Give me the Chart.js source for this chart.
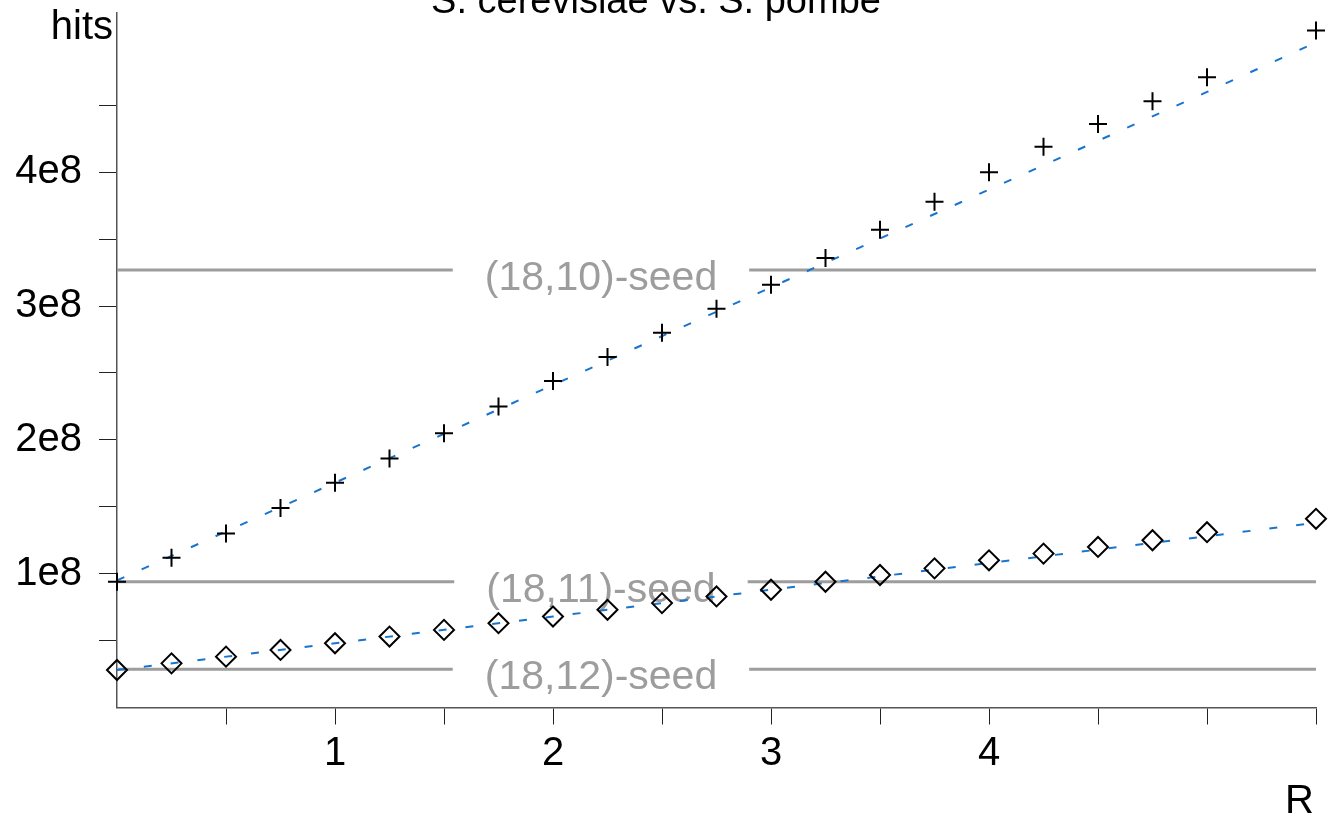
<!DOCTYPE html>
<html>
<head>
<meta charset="utf-8">
<script src="https://cdn.jsdelivr.net/npm/chart.js@4"></script>
<style>
  html, body { margin: 0; padding: 0; background: #fff; }
  #wrap { width: 1328px; height: 818px; }
</style>
</head>
<body>
<div id="wrap"><canvas id="c" width="1328" height="818"></canvas></div>
<script>
// ---------- data ----------
const chartTitle = 'S. cerevisiae vs. S. pombe';
const xAxisLabel = 'R';
const yAxisLabel = 'hits';

const rValues = [0, 0.25, 0.5, 0.75, 1, 1.25, 1.5, 1.75, 2, 2.25, 2.5, 2.75, 3, 3.25, 3.5, 3.75, 4, 4.25, 4.5, 4.75, 5, 5.5];
const plusHits = [0.94e8, 1.12e8, 1.30e8, 1.49e8, 1.68e8, 1.86e8, 2.05e8, 2.25e8, 2.44e8, 2.62e8, 2.80e8, 2.98e8, 3.16e8, 3.36e8, 3.57e8, 3.78e8, 4.00e8, 4.19e8, 4.36e8, 4.53e8, 4.71e8, 5.06e8];
const diamondHits = [0.28e8, 0.33e8, 0.38e8, 0.43e8, 0.48e8, 0.53e8, 0.58e8, 0.63e8, 0.68e8, 0.73e8, 0.78e8, 0.83e8, 0.88e8, 0.94e8, 0.99e8, 1.04e8, 1.10e8, 1.15e8, 1.20e8, 1.25e8, 1.31e8, 1.41e8];

const fitR = [0, 1, 2, 3, 4, 5, 5.5];
const plusFit = [0.95e8, 1.68e8, 2.41e8, 3.14e8, 3.87e8, 4.60e8, 4.97e8];
const diamondFit = [0.28e8, 0.48e8, 0.68e8, 0.88e8, 1.08e8, 1.28e8, 1.38e8];

const seedLabels = ['(18,10)-seed', '(18,11)-seed', '(18,12)-seed'];
const seedValues = [3.27e8, 0.94e8, 0.285e8];
const seedLabelR = 2.22;

const xTickValues = [0.5, 1, 1.5, 2, 2.5, 3, 3.5, 4, 4.5, 5, 5.5];
const xLabelValues = [1, 2, 3, 4];
const xTickLabels = ['1', '2', '3', '4'];
const yTickValues = [0.5e8, 1e8, 1.5e8, 2e8, 2.5e8, 3e8, 3.5e8, 4e8, 4.5e8];
const yLabelValues = [1e8, 2e8, 3e8, 4e8];
const yTickLabels = ['1e8', '2e8', '3e8', '4e8'];

// ---------- chart ----------
const FONT = '"Liberation Sans", Arial, Helvetica, sans-serif';
const GRAY = '#9d9d9d';
const BLUE = '#1874cd';

const toPts = (xs, ys) => xs.map((x, i) => ({ x: x, y: ys[i] }));

const overlay = {
  id: 'overlay',
  beforeDatasetsDraw(chart) {
    const { ctx, chartArea, scales: { x, y } } = chart;
    ctx.save();
    ctx.font = '41px ' + FONT;
    seedLabels.forEach((lab, i) => {
      const py = y.getPixelForValue(seedValues[i]);
      const cx = x.getPixelForValue(seedLabelR);
      const w = ctx.measureText(lab).width;
      const gap = w / 2 + 32;
      ctx.strokeStyle = GRAY;
      ctx.lineWidth = 3;
      ctx.beginPath();
      ctx.moveTo(chartArea.left, py);
      ctx.lineTo(cx - gap, py);
      ctx.moveTo(cx + gap, py);
      ctx.lineTo(chartArea.right, py);
      ctx.stroke();
      ctx.fillStyle = GRAY;
      ctx.textAlign = 'center';
      ctx.textBaseline = 'alphabetic';
      ctx.fillText(lab, cx, py + 20);
    });
    ctx.restore();
  },
  afterDraw(chart) {
    const { ctx, chartArea } = chart;
    ctx.save();
    ctx.fillStyle = '#000';
    ctx.textBaseline = 'alphabetic';
    ctx.font = '38px ' + FONT;
    ctx.textAlign = 'center';
    ctx.fillText(chartTitle, 656, 13);
    ctx.font = '40px ' + FONT;
    ctx.textAlign = 'right';
    ctx.fillText(yAxisLabel, chartArea.left - 4, 39);
    ctx.fillText(xAxisLabel, chartArea.right - 2, 813);
    ctx.restore();
  }
};

new Chart(document.getElementById('c'), {
  type: 'scatter',
  data: {
    datasets: [
      {
        label: 'plus',
        data: toPts(rValues, plusHits),
        pointStyle: 'cross',
        pointRadius: 9,
        pointBorderWidth: 2,
        borderColor: '#000',
        backgroundColor: '#000',
        showLine: false,
        clip: false
      },
      {
        label: 'diamond',
        data: toPts(rValues, diamondHits),
        pointStyle: 'rectRot',
        pointRadius: 10,
        pointBorderWidth: 2,
        borderColor: '#000',
        backgroundColor: 'rgba(0,0,0,0)',
        showLine: false,
        clip: false
      },
      {
        label: 'plus fit',
        data: toPts(fitR, plusFit),
        showLine: true,
        borderColor: BLUE,
        borderWidth: 2,
        borderDash: [8, 19],
        pointRadius: 0,
        tension: 0,
        clip: false
      },
      {
        label: 'diamond fit',
        data: toPts(fitR, diamondFit),
        showLine: true,
        borderColor: BLUE,
        borderWidth: 2,
        borderDash: [8, 19],
        pointRadius: 0,
        tension: 0,
        clip: false
      }
    ]
  },
  options: {
    responsive: false,
    animation: false,
    events: [],
    layout: { padding: { top: 13, right: 11, left: 0, bottom: 0 } },
    plugins: {
      legend: { display: false },
      title: { display: false },
      tooltip: { enabled: false }
    },
    scales: {
      x: {
        type: 'linear',
        min: 0,
        max: 5.5,
        afterBuildTicks: (s) => { s.ticks = xTickValues.map(v => ({ value: v })); },
        afterFit: (s) => { s.height = 110.5; s.paddingLeft = 0; s.paddingRight = 0; },
        border: { display: true, color: '#555', width: 1.5 },
        grid: { drawOnChartArea: false, drawTicks: true, tickLength: 17, color: '#222', lineWidth: 1 },
        ticks: {
          autoSkip: false,
          maxRotation: 0,
          padding: 5,
          color: '#000',
          font: { family: FONT, size: 40 },
          callback: (v) => { const i = xLabelValues.indexOf(v); return i >= 0 ? xTickLabels[i] : ''; }
        }
      },
      y: {
        type: 'linear',
        min: 0,
        max: 5.19e8,
        afterBuildTicks: (s) => { s.ticks = yTickValues.map(v => ({ value: v })); },
        afterFit: (s) => { s.width = 117; s.paddingTop = 0; s.paddingBottom = 0; },
        border: { display: true, color: '#555', width: 1.5 },
        grid: { drawOnChartArea: false, drawTicks: true, tickLength: 18, color: '#222', lineWidth: 1 },
        ticks: {
          autoSkip: false,
          padding: 17,
          color: '#000',
          font: { family: FONT, size: 40 },
          callback: (v) => { const i = yLabelValues.indexOf(v); return i >= 0 ? yTickLabels[i] : ''; }
        }
      }
    }
  },
  plugins: [overlay]
});
</script>
</body>
</html>
